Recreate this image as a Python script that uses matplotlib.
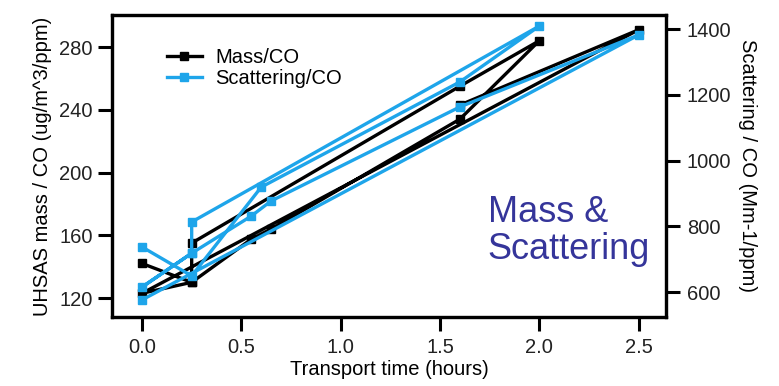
import matplotlib
matplotlib.use('Agg')
import matplotlib.pyplot as plt
import numpy as np

plt.rcParams['font.family'] = ['Liberation Sans', 'DejaVu Sans']

# transport time (hours) and mass/CO, in the order the points are joined
mass_time = [0.0, 0.25, 0.55, 0.65, 1.6, 2.0, 1.6, 0.25, 0.25, 0.0, 2.5, 1.6]
mass_co = [142, 130, 157.5, 164, 234, 284, 255, 155, 130, 123, 291, 243]

# transport time (hours) and scattering/CO
scat_time = [0.0, 0.25, 0.6, 1.6, 2.0, 0.25, 0.25, 0.0, 0.25, 0.55, 0.65, 1.6, 2.5, 0.0]
scat_co = [737, 649, 919, 1239, 1409, 813, 718, 615, 718, 831, 877, 1163, 1382, 576]

xticks = [0.0, 0.5, 1.0, 1.5, 2.0, 2.5]
left_ticks = [120, 160, 200, 240, 280]
right_ticks = [600, 800, 1000, 1200, 1400]

black = 'black'
blue = '#1ea5ea'

fig = plt.figure(figsize=(7.79, 3.86), dpi=100)
ax = fig.add_axes([0.1438, 0.1788, 0.7112, 0.7823])
ax2 = ax.twinx()

l1, = ax.plot(mass_time, mass_co, color=black, lw=2.4, marker='s', ms=5.5, label='Mass/CO', zorder=3)
l2, = ax2.plot(scat_time, scat_co, color=blue, lw=2.4, marker='s', ms=5.5, label='Scattering/CO', zorder=3)

ax.set_xlim(-0.151, 2.638)
ax.set_ylim(107.9, 300.4)
ax2.set_ylim(524, 1442.6)

ax.set_xticks(xticks)
ax.set_xticklabels(['%.1f' % v for v in xticks])
ax.set_yticks(left_ticks)
ax2.set_yticks(right_ticks)

fs = 14.5
for a in (ax, ax2):
    for s in a.spines.values():
        s.set_linewidth(2.3)
    a.tick_params(width=2.2, length=10, labelsize=fs, color='black', labelcolor='#222222')
ax.tick_params(axis='x', pad=5)
ax.tick_params(axis='y', pad=4)
ax2.tick_params(axis='y', pad=5)

ax.set_xlabel('Transport time (hours)', fontsize=fs, labelpad=2)
ax.set_ylabel('UHSAS mass / CO (ug/m^3/ppm)', fontsize=fs, labelpad=5)
ax2.set_ylabel('Scattering / CO (Mm-1/ppm)', fontsize=fs, rotation=270, labelpad=18)

ax.legend(handles=[l1, l2], loc='upper left', bbox_to_anchor=(0.066, 0.95), frameon=False,
          fontsize=14.5, handlelength=1.75, handletextpad=0.65, labelspacing=0.1)

ax.text(0.678, 0.405, 'Mass &\nScattering', transform=ax.transAxes, fontsize=26,
        color='#35359a', ha='left', va='top', linespacing=1.08)

fig.savefig('out.png', dpi=100)
